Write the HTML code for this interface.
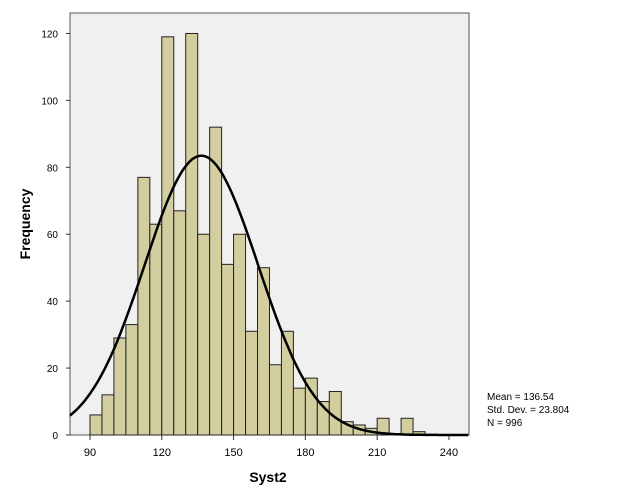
<!DOCTYPE html>
<html><head><meta charset="utf-8"><style>
body{margin:0;background:#fff;}
svg{display:block;font-family:"Liberation Sans",Arial,sans-serif;}
</style></head><body>
<svg id="chart" width="625" height="500">
<rect x="70" y="13" width="399" height="422" fill="#f0f0f0" stroke="#555" stroke-width="1"/>
<g id="bars"></g>
<g id="yaxis"></g>
<g id="xaxis"></g>
<path id="curve" fill="none" stroke="#000" stroke-width="2.5"/>
<text x="30" y="224" font-size="14" font-weight="bold" text-anchor="middle" transform="rotate(-90 30 224)">Frequency</text>
<text x="268" y="482" font-size="14" font-weight="bold" text-anchor="middle">Syst2</text>
<g font-size="10">
<text x="487" y="400">Mean = 136.54</text>
<text x="487" y="413">Std. Dev. = 23.804</text>
<text x="487" y="426">N = 996</text>
</g>
</svg>
<script>
const binStarts=[90,95,100,105,110,115,120,125,130,135,140,145,150,155,160,165,170,175,180,185,190,195,200,205,210,215,220,225];
const counts=[6,12,29,33,77,63,119,67,120,60,92,51,60,31,50,21,31,14,17,10,13,4,3,2,5,0,5,1];
const binWidth=5;
const yTicks=[0,20,40,60,80,100,120];
const xTicks=[90,120,150,180,210,240];
const mean=136.54, sd=23.804, n=996;
const NS='http://www.w3.org/2000/svg';
const xs=v=>90+(v-90)*2.393;
const ys=v=>435-v*3.346;
const bars=document.getElementById('bars');
binStarts.forEach((b,i)=>{
  if(counts[i]<=0)return;
  const r=document.createElementNS(NS,'rect');
  r.setAttribute('x',xs(b));r.setAttribute('width',xs(b+binWidth)-xs(b));
  r.setAttribute('y',ys(counts[i]));r.setAttribute('height',ys(0)-ys(counts[i]));
  r.setAttribute('fill','#d3cea0');r.setAttribute('stroke','#222');r.setAttribute('stroke-width','1');
  
  
  bars.appendChild(r);
});
const ya=document.getElementById('yaxis');
yTicks.forEach(t=>{
  const l=document.createElementNS(NS,'line');
  l.setAttribute('x1',66);l.setAttribute('x2',70);l.setAttribute('y1',ys(t));l.setAttribute('y2',ys(t));l.setAttribute('stroke','#333');
  
  
  ya.appendChild(l);
  const tx=document.createElementNS(NS,'text');
  tx.setAttribute('x',58);tx.setAttribute('y',ys(t)+4);tx.setAttribute('font-size','10');tx.setAttribute('text-anchor','end');
  tx.textContent=t;
  
  
  ya.appendChild(tx);
});
const xa=document.getElementById('xaxis');
xTicks.forEach(t=>{
  const l=document.createElementNS(NS,'line');
  l.setAttribute('x1',xs(t));l.setAttribute('x2',xs(t));l.setAttribute('y1',435);l.setAttribute('y2',440);l.setAttribute('stroke','#333');
  
  
  xa.appendChild(l);
  const tx=document.createElementNS(NS,'text');
  tx.setAttribute('x',xs(t));tx.setAttribute('y',456);tx.setAttribute('font-size','11');tx.setAttribute('text-anchor','middle');
  tx.textContent=t;
  
  
  xa.appendChild(tx);
});
let d='';
for(let v=81.6;v<=248.4;v+=0.5){
  const f=n*binWidth/(sd*Math.sqrt(2*Math.PI))*Math.exp(-0.5*((v-mean)/sd)**2);
  d+=(d?'L':'M')+xs(v).toFixed(1)+','+ys(f).toFixed(1);
}
document.getElementById('curve').setAttribute('d',d);
</script>
</body></html>
